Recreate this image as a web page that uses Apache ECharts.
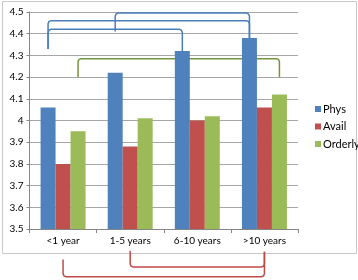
<!DOCTYPE html>
<html>
<head>
<meta charset="utf-8">
<script src="https://cdn.jsdelivr.net/npm/echarts@6/dist/echarts.min.js"></script>
<style>
  html, body { margin: 0; padding: 0; background: #fff; }
  #chart { width: 358px; height: 280px; }
</style>
</head>
<body>
<div id="chart"></div>
<script>
  const categories = ['<1 year', '1-5 years', '6-10 years', '>10 years'];
  const seriesNames = ['Phys', 'Avail', 'Orderly'];
  const phys = [4.06, 4.22, 4.32, 4.38];
  const avail = [3.80, 3.88, 4.00, 4.06];
  const orderly = [3.95, 4.01, 4.02, 4.12];
  const barColors = ['#4f81bd', '#c0504d', '#9bbb59'];
  const bracketColors = ['#4a7ebb', '#be4b48', '#77933c'];
  // bracket: [series index, from category, to category, start value, level value, end value]
  const brackets = [
    [0, 0, 3, 4.33, 4.46, 4.38],
    [0, 0, 2, 4.33, 4.42, 4.32],
    [0, 1, 3, 4.41, 4.495, 4.38],
    [2, 0, 3, 4.20, 4.285, 4.20],
    [1, 0, 3, 3.36, 3.28, 3.395],
    [1, 1, 3, 3.40, 3.325, 3.395]
  ];
  const catGap = 0.33;

  const chart = echarts.init(document.getElementById('chart'));
  const font = 'Lato, "Liberation Sans", sans-serif';

  function bar(name, data, i) {
    return {
      name: name,
      type: 'bar',
      data: data,
      barGap: '0%',
      barCategoryGap: (catGap * 100) + '%',
      itemStyle: { color: barColors[i] },
      silent: true
    };
  }

  const option = {
    animation: false,
    textStyle: { fontFamily: font },
    graphic: [{
      type: 'rect',
      shape: { x: 2.5, y: 1.5, width: 354, height: 252 },
      style: { fill: null, stroke: '#c8c8c8', lineWidth: 1 },
      silent: true
    }],
    grid: { left: 29.5, right: 60, top: 12, bottom: 51 },
    legend: {
      orient: 'vertical',
      left: 315,
      top: 103,
      padding: 0,
      itemWidth: 6,
      itemHeight: 6,
      itemGap: 5.5,
      icon: 'rect',
      data: seriesNames,
      textStyle: {
        fontSize: 11, color: '#000', fontFamily: font, lineHeight: 12,
        padding: [0, 0, 0, -3], width: 40, overflow: 'none'
      }
    },
    xAxis: {
      type: 'category',
      data: categories,
      axisLine: { lineStyle: { color: '#868686' } },
      axisTick: { show: true, length: 4, lineStyle: { color: '#868686' } },
      axisLabel: { color: '#000', fontSize: 10, margin: 7, fontFamily: font }
    },
    yAxis: {
      type: 'value',
      min: 3.5,
      max: 4.5,
      interval: 0.1,
      axisLine: { show: true, lineStyle: { color: '#868686' } },
      axisTick: { show: true, length: 3, lineStyle: { color: '#868686' } },
      axisLabel: { color: '#000', fontSize: 10, margin: 6, fontFamily: font },
      splitLine: { lineStyle: { color: '#a6a6a6' } }
    },
    series: [
      bar('Phys', phys, 0),
      bar('Avail', avail, 1),
      bar('Orderly', orderly, 2),
      {
        type: 'custom',
        silent: true,
        clip: false,
        encode: { x: 1, y: 3 },
        data: brackets,
        renderItem: function (params, api) {
          const band = api.size([1, 0])[0];
          const barW = band * (1 - catGap) / 3;
          const s = api.value(0);
          const off = (s - 1) * barW;
          const a = api.coord([api.value(1), api.value(3)]);
          const lv = api.coord([api.value(1), api.value(4)]);
          const b = api.coord([api.value(2), api.value(5)]);
          const x0 = a[0] + off, x1 = b[0] + off, y = lv[1];
          const sg = a[1] > y ? 1 : -1;
          const r = 3;
          const pts = [
            [x0, a[1]],
            [x0, y + sg * r],
            [x0 + 0.9, y + sg * 0.9],
            [x0 + r, y],
            [x1 - r, y],
            [x1 - 0.9, y + sg * 0.9],
            [x1, y + sg * r],
            [x1, b[1]]
          ];
          return {
            type: 'polyline',
            shape: { points: pts },
            style: { stroke: bracketColors[s], lineWidth: 1.5, fill: null }
          };
        }
      }
    ]
  };
  chart.setOption(option);
</script>
</body>
</html>
